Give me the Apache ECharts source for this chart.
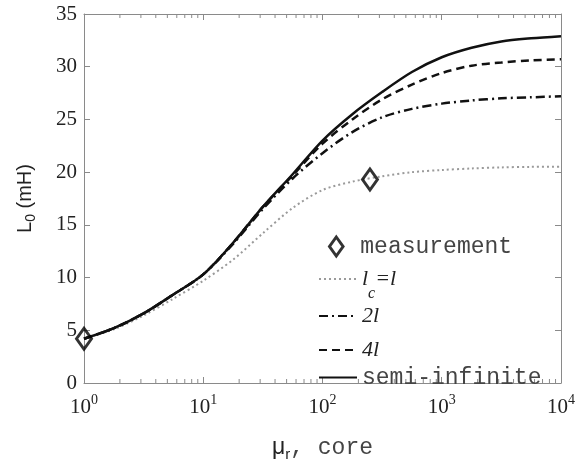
<!DOCTYPE html>
<html>
<head>
<meta charset="utf-8">
<script src="https://cdn.jsdelivr.net/npm/echarts@6/dist/echarts.min.js"></script>
<style>
  html, body { margin: 0; padding: 0; background: #fff; }
  #chart { width: 580px; height: 467px; }
</style>
</head>
<body>
<div id="chart"></div>
<script>
// mu_r, core (log axis), sampled every quarter decade
const muValues = [1, 1.78, 3.16, 5.62, 10, 17.8, 31.6, 56.2, 100, 178, 316, 562, 1000, 1780, 3160, 5620, 10000];

// L0 (mH) per core length
const semiInfinite = [4.2, 5.2, 6.6, 8.4, 10.3, 13.3, 16.7, 19.8, 23.0, 25.5, 27.6, 29.5, 30.9, 31.8, 32.4, 32.7, 32.9];
const len4l = [4.2, 5.2, 6.6, 8.4, 10.3, 13.3, 16.7, 19.7, 22.7, 25.0, 26.9, 28.3, 29.4, 30.1, 30.4, 30.6, 30.7];
const len2l = [4.2, 5.2, 6.6, 8.4, 10.3, 13.2, 16.5, 19.4, 21.8, 23.8, 25.2, 26.0, 26.5, 26.8, 27.0, 27.1, 27.2];
const lenL = [4.2, 5.1, 6.4, 8.0, 9.7, 11.7, 14.2, 16.6, 18.3, 19.1, 19.6, 20.0, 20.2, 20.35, 20.45, 20.5, 20.5];

// measured points [mu, L0]
const measurements = [[1, 4.2], [250, 19.3]];

// axis ticks
const yTicks = { min: 0, max: 35, interval: 5 };
const xRange = { min: 1, max: 10000 };
const decades = [1, 10, 100, 1000];
const minorSteps = [2, 3, 4, 5, 6, 7, 8, 9];

function pairs(ys) {
  return ys.map(function (y, i) { return [muValues[i], y]; });
}

function powLabel(v) {
  const e = Math.round(Math.log10(v));
  return "{b|10}{s|" + e + "}";
}

const minorTickValues = [];
decades.forEach(function (d) {
  minorSteps.forEach(function (m) { minorTickValues.push([d * m]); });
});

const serif = "Liberation Serif";
const mono = "Liberation Mono";
const axisGrey = "#8a8a8a";
const diamond = "path://M0,-14L10,0L0,14L-10,0Z";
const hollowDiamond = { color: "rgba(0,0,0,0)", borderColor: "#000", borderWidth: 3 };

const chart = echarts.init(document.getElementById("chart"), null, { renderer: "canvas" });

const baseX = {
  type: "log",
  logBase: 10,
  min: xRange.min,
  max: xRange.max,
  axisLine: { show: true, onZero: false, lineStyle: { color: axisGrey, width: 1 } },
  axisTick: { show: true, inside: true, length: 6, lineStyle: { color: axisGrey } },
  minorTick: { show: false },
  splitLine: { show: false }
};

const baseY = {
  type: "value",
  min: yTicks.min,
  max: yTicks.max,
  interval: yTicks.interval,
  axisLine: { show: true, onZero: false, lineStyle: { color: axisGrey, width: 1 } },
  axisTick: { show: true, inside: true, length: 6, lineStyle: { color: axisGrey } },
  splitLine: { show: false }
};

// one legend block per entry so the rows sit where the figure has them
const legendRich = {
  mono: { fontFamily: mono, fontSize: 23, color: "#444" },
  it: { fontFamily: serif, fontStyle: "italic", fontSize: 22, color: "#222" },
  sub: { fontFamily: serif, fontStyle: "italic", fontSize: 16, color: "#222", padding: [30, 0, 0, 0] }
};
function legendText(name) {
  if (name === "lc") return "{it|l}{sub|c}{it|=l}";
  if (name === "2l") return "{it|2l}";
  if (name === "4l") return "{it|4l}";
  return "{mono|" + name + "}";
}
const legendRows = [
  { name: "measurement", left: 328, top: 235, icon: diamond, itemStyle: hollowDiamond, itemHeight: 19 },
  { name: "lc", top: 268 },
  { name: "2l", top: 305 },
  { name: "4l", top: 339 },
  { name: "semi-infinite", top: 366 }
];
const legends = legendRows.map(function (row) {
  const item = { name: row.name, itemStyle: row.itemStyle || { opacity: 0 } };
  if (row.icon) item.icon = row.icon;
  return {
    orient: "vertical",
    left: row.left || 318,
    top: row.top,
    padding: 0,
    itemWidth: 38,
    itemHeight: row.itemHeight || 16,
    symbolKeepAspect: true,
    formatter: legendText,
    textStyle: { rich: legendRich },
    data: [item]
  };
});

const option = {
  animation: false,
  backgroundColor: "#fff",
  grid: { left: 84, right: 19, top: 14, bottom: 70 },
  legend: legends,
  xAxis: [
    Object.assign({}, baseX, {
      position: "bottom",
      name: "{mu|\u03bc}{sub|r}{c|, core}",
      nameLocation: "middle",
      nameGap: 50,
      nameTextStyle: {
        rich: {
          mu: { fontFamily: "Liberation Sans", fontSize: 23, color: "#222" },
          sub: { fontFamily: "Liberation Sans", fontSize: 15, color: "#222", padding: [14, 0, 0, 0] },
          c: { fontFamily: mono, fontSize: 23, color: "#444" }
        }
      },
      axisLabel: {
        show: true,
        margin: 10,
        formatter: powLabel,
        rich: {
          b: { fontFamily: serif, fontSize: 21, color: "#222" },
          s: { fontFamily: serif, fontSize: 14, color: "#222", padding: [0, 0, 14, 0] }
        }
      }
    }),
    Object.assign({}, baseX, { position: "top", axisLabel: { show: false } })
  ],
  yAxis: [
    Object.assign({}, baseY, {
      position: "left",
      name: "{a|L}{sub|0}{a| (mH)}",
      nameLocation: "middle",
      nameGap: 46,
      nameTextStyle: {
        rich: {
          a: { fontFamily: "Liberation Sans", fontSize: 20, color: "#222" },
          sub: { fontFamily: "Liberation Sans", fontSize: 14, color: "#222", padding: [12, 0, 0, 0] }
        }
      },
      axisLabel: { show: true, margin: 7, fontFamily: serif, fontSize: 21, color: "#222" }
    }),
    Object.assign({}, baseY, { position: "right", axisLabel: { show: false } })
  ],
  series: [
    {
      // minor log ticks on bottom and top axes
      name: "minorTicks",
      type: "custom",
      data: minorTickValues,
      clip: false,
      silent: true,
      z: 1,
      renderItem: function (params, api) {
        const b = api.coord([api.value(0), yTicks.min]);
        const t = api.coord([api.value(0), yTicks.max]);
        const style = { stroke: axisGrey, lineWidth: 1 };
        return {
          type: "group",
          children: [
            { type: "line", shape: { x1: b[0], y1: b[1], x2: b[0], y2: b[1] - 4 }, style: style },
            { type: "line", shape: { x1: t[0], y1: t[1], x2: t[0], y2: t[1] + 4 }, style: style }
          ]
        };
      }
    },
    {
      name: "lc",
      type: "line",
      data: pairs(lenL),
      smooth: 0.3,
      symbol: "none",
      itemStyle: { color: "#9a9a9a" },
      lineStyle: { color: "#9a9a9a", width: 2, type: [2, 3] }
    },
    {
      name: "2l",
      type: "line",
      data: pairs(len2l),
      smooth: 0.3,
      symbol: "none",
      itemStyle: { color: "#111" },
      lineStyle: { color: "#111", width: 2.5, type: [9, 4, 2, 4] }
    },
    {
      name: "4l",
      type: "line",
      data: pairs(len4l),
      smooth: 0.3,
      symbol: "none",
      itemStyle: { color: "#111" },
      lineStyle: { color: "#111", width: 2.5, type: [8, 5] }
    },
    {
      name: "semi-infinite",
      type: "line",
      data: pairs(semiInfinite),
      smooth: 0.3,
      symbol: "none",
      itemStyle: { color: "#111" },
      lineStyle: { color: "#111", width: 2.5 }
    },
    {
      name: "measurement",
      type: "scatter",
      data: measurements,
      clip: false,
      z: 5,
      symbol: diamond,
      symbolSize: [15, 21],
      itemStyle: hollowDiamond
    }
  ]
};

chart.setOption(option);
</script>
</body>
</html>
